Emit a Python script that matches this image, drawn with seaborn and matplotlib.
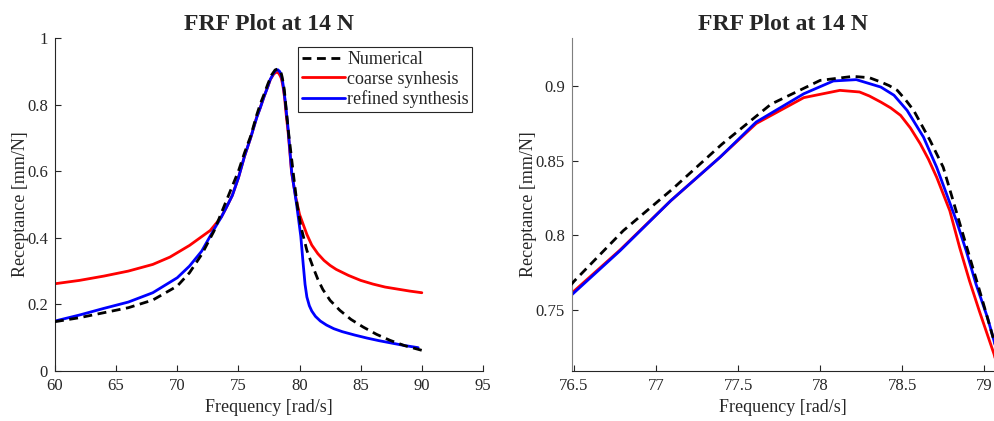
import numpy as np
import pandas as pd
import matplotlib
matplotlib.use("Agg")
import matplotlib.pyplot as plt
import seaborn as sns

# ---------------- data ----------------
num_freq = [60, 62, 64, 66, 68, 70, 71, 72, 73, 73.5, 74, 74.5, 75, 75.5, 76.0, 76.5,
            76.8, 77.1, 77.4, 77.7, 78.0, 78.2, 78.3, 78.37, 78.42, 78.47, 78.52, 78.57,
            78.67, 78.75, 78.81, 78.87, 78.93, 78.99, 79.06, 79.2, 79.5, 79.8, 80.1,
            80.6, 81.1, 81.5, 81.9, 82.5, 83.3, 84.2, 85.2, 86.3, 87.4, 88.6, 90]
num_vals = [0.148, 0.160, 0.175, 0.190, 0.213, 0.255, 0.295, 0.350, 0.420, 0.465, 0.510,
            0.555, 0.600, 0.655, 0.705, 0.769, 0.803, 0.831, 0.861, 0.888, 0.904,
            0.9067, 0.9058, 0.9029, 0.9005, 0.8973, 0.891, 0.8838, 0.8636, 0.8456,
            0.8232, 0.8007, 0.7782, 0.7558, 0.7288, 0.685, 0.590, 0.500, 0.435, 0.362,
            0.312, 0.275, 0.245, 0.212, 0.182, 0.155, 0.132, 0.110, 0.092, 0.076, 0.062]

coarse_freq = [60, 62, 64, 66, 68, 69.4, 71, 72.7, 73.6, 74, 74.5, 75, 75.5, 76.0, 76.49,
               76.78, 77.09, 77.39, 77.61, 77.9, 78.12, 78.24, 78.3, 78.37, 78.43, 78.49,
               78.55, 78.61, 78.66, 78.71, 78.79, 78.85, 78.91, 78.97, 79.06, 79.35,
               79.7, 80.0, 80.3, 80.6, 81.0, 81.5, 82.0, 82.5, 83.0, 84.0, 85.0, 86.0,
               87.0, 88.0, 89.0, 90]
coarse_vals = [0.262, 0.272, 0.285, 0.300, 0.320, 0.342, 0.377, 0.422, 0.462, 0.490,
               0.527, 0.580, 0.645, 0.700, 0.7614, 0.790, 0.8232, 0.8524, 0.875, 0.8924,
               0.8973, 0.8962, 0.8935, 0.8894, 0.8855, 0.8805, 0.872, 0.8614, 0.851,
               0.8389, 0.8164, 0.7917, 0.7693, 0.749, 0.7199, 0.595, 0.520, 0.470,
               0.440, 0.410, 0.378, 0.352, 0.332, 0.317, 0.305, 0.287, 0.272, 0.261,
               0.252, 0.246, 0.240, 0.235]

refined_freq = [60, 62, 64, 66, 68, 70, 71, 72, 73, 73.6, 74, 74.5, 75, 75.5, 76.0,
                76.49, 76.78, 77.09, 77.39, 77.61, 77.9, 78.08, 78.22, 78.37, 78.45,
                78.53, 78.63, 78.71, 78.77, 78.83, 78.89, 78.95, 79.02, 79.06, 79.35,
                79.76, 80.1, 80.3, 80.45, 80.6, 80.8, 81.0, 81.3, 81.7, 82.2, 82.8, 83.5,
                84.5, 85.5, 86.5, 87.5, 88.5, 89.7]
refined_vals = [0.150, 0.168, 0.188, 0.207, 0.235, 0.280, 0.315, 0.360, 0.425, 0.462,
                0.490, 0.527, 0.580, 0.645, 0.700, 0.7603, 0.7895, 0.8232, 0.8524, 0.876,
                0.895, 0.9036, 0.9045, 0.8995, 0.894, 0.8838, 0.8658, 0.8456, 0.8277,
                0.8097, 0.7895, 0.767, 0.7445, 0.7288, 0.600, 0.500, 0.405, 0.320, 0.260,
                0.222, 0.196, 0.180, 0.164, 0.150, 0.138, 0.127, 0.118, 0.108, 0.099,
                0.091, 0.084, 0.077, 0.070]

labels = ["Numerical", "coarse synhesis", "refined synthesis"]
title_text = "FRF Plot at 14 N"
xlabel_text = "Frequency [rad/s]"
ylabel_text = "Receptance [mm/N]"

left_xticks = [60, 65, 70, 75, 80, 85, 90, 95]
left_yticks = [0, 0.2, 0.4, 0.6, 0.8, 1]
right_xticks = [76.5, 77, 77.5, 78, 78.5, 79]
right_yticks = [0.75, 0.8, 0.85, 0.9]

# ---------------- style ----------------
sns.set_style("ticks")
plt.rcParams["font.family"] = ["Liberation Serif", "DejaVu Serif"]
plt.rcParams["axes.edgecolor"] = "#262626"
plt.rcParams["xtick.direction"] = "in"
plt.rcParams["ytick.direction"] = "in"
plt.rcParams["xtick.color"] = "#262626"
plt.rcParams["ytick.color"] = "#262626"

fig = plt.figure(figsize=(9.94, 4.21), dpi=100)
ax1 = fig.add_axes([0.0553, 0.1188, 0.4306, 0.791])
ax2 = fig.add_axes([0.5752, 0.1188, 0.4249, 0.791])

df_num = pd.DataFrame({"f": num_freq, "v": num_vals})
df_coarse = pd.DataFrame({"f": coarse_freq, "v": coarse_vals})
df_ref = pd.DataFrame({"f": refined_freq, "v": refined_vals})

LW = 2.0
for ax in (ax1, ax2):
    sns.lineplot(data=df_num, x="f", y="v", ax=ax, color="black", linestyle=(0, (3.2, 2.0)),
                 linewidth=LW, sort=False, estimator=None, label=labels[0], zorder=3)
    sns.lineplot(data=df_coarse, x="f", y="v", ax=ax, color="#ff0000", linestyle="-",
                 linewidth=LW, sort=False, estimator=None, label=labels[1], zorder=2)
    sns.lineplot(data=df_ref, x="f", y="v", ax=ax, color="#0000ff", linestyle="-",
                 linewidth=LW, sort=False, estimator=None, label=labels[2], zorder=2.5)
    ax.set_title(title_text, fontsize=17, fontweight="bold", pad=6)
    ax.set_xlabel(xlabel_text, fontsize=13, color="#262626", labelpad=4)
    ax.set_ylabel(ylabel_text, fontsize=13, color="#262626", labelpad=-1)
    ax.tick_params(labelsize=12, length=4, width=0.8, labelcolor="#262626", pad=5)
    for s in ("top", "right"):
        ax.spines[s].set_visible(False)
    for s in ("left", "bottom"):
        ax.spines[s].set_linewidth(0.8)

ax1.set_xlim(60, 95)
ax1.set_ylim(0, 1)
ax1.set_xticks(left_xticks)
ax1.set_xticklabels([str(t) for t in left_xticks])
ax1.set_yticks(left_yticks)
ax1.set_yticklabels(["0", "0.2", "0.4", "0.6", "0.8", "1"])

ax2.set_xlim(76.486, 79.06)
ax2.set_ylim(0.7087, 0.9325)
ax2.set_xticks(right_xticks)
ax2.set_xticklabels(["76.5", "77", "77.5", "78", "78.5", "79"])
ax2.set_yticks(right_yticks)
ax2.set_yticklabels(["0.75", "0.8", "0.85", "0.9"])
ax2.spines["left"].set_color("#7f7f7f")

# legend only in left axes
leg = ax1.legend(loc="upper right", bbox_to_anchor=(0.975, 0.972), fontsize=13,
                 frameon=True, fancybox=False, edgecolor="#262626", framealpha=1,
                 handlelength=2.4, handletextpad=0.1, borderpad=0.2,
                 labelspacing=0.15, borderaxespad=0.0)
leg.get_frame().set_linewidth(0.8)
if ax2.get_legend() is not None:
    ax2.get_legend().remove()

fig.savefig("out.png", dpi=100)
